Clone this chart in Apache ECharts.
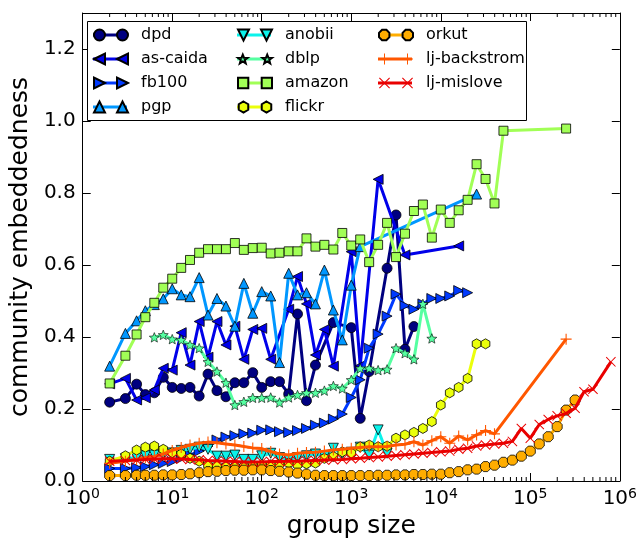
<!DOCTYPE html>
<html>
<head>
<meta charset="utf-8">
<script src="https://cdn.jsdelivr.net/npm/echarts@6/dist/echarts.min.js"></script>
<style>html,body{margin:0;padding:0;background:#fff}#c{width:640px;height:544px}</style>
</head>
<body>
<div id="c"></div>
<script>
// group sizes (shared x grid)
const sizes = [2,3,4,5.01,6.31,7.94,10,12.6,15.8,20,25.1,31.6,39.8,50.1,63.1,79.4,100,126,158,200,251,316,398,501,631,794,1000,1259,1585,1995,2512,3162,3981,5012,6310,7943,10000,12589,15849,19953,25119,31623,39811,50119,63096,79433,100000,125893,158489,199526,251189,316228,398107,501187,630957,794328];
const _ = null;
// community embeddedness per group size (null = no point)
const dpd = [0.219,0.229,0.269,0.24,0.245,0.288,0.26,0.257,0.26,0.236,0.297,0.251,0.234,0.273,0.273,0.301,0.26,0.276,0.276,0.242,0.464,0.223,0.322,_,0.44,_,0.426,0.174,0.304,_,0.591,0.739,0.366,0.429];
const asCaida = [0.27,0.285,0.225,0.231,0.253,0.313,0.308,0.412,0.322,0.443,0.344,0.443,0.378,0.43,0.338,0.421,0.424,0.338,_,0.477,0.568,0.492,0.35,0.421,0.319,_,0.637,0.32,_,0.838,_,_,0.628,_,_,_,_,_,0.653];
const fb100 = [0.035,0.035,0.037,0.04,0.045,0.049,0.054,0.063,0.072,0.083,0.097,0.114,0.122,0.126,0.131,0.133,0.141,0.142,0.137,0.135,0.14,0.146,0.155,0.161,0.172,0.186,0.232,0.281,0.369,0.408,0.458,0.519,0.487,0.477,0.492,0.507,0.507,0.514,0.529,0.523];
const pgp = [0.319,0.41,0.445,0.473,0.49,0.506,0.534,0.517,0.512,0.565,0.461,0.507,0.486,0.43,0.549,0.466,0.526,0.514,0.329,0.577,0.517,0.523,0.492,0.586,0.475,0.392,0.544,0.651,_,_,_,_,_,_,_,_,_,_,_,_,0.797];
const anobii = [0.06,0.062,0.065,0.07,0.072,0.075,0.078,0.085,0.088,0.094,0.088,0.069,0.069,0.072,0.06,0.06,0.07,0.077,0.065,0.06,0.065,0.07,0.075,0.068,0.091,0.075,0.08,0.094,0.072,0.142,0.077];
const dblp = [_,_,_,_,0.399,0.406,0.394,0.392,0.378,0.369,0.331,0.304,0.273,0.211,0.22,0.231,0.231,0.232,0.218,0.232,0.239,0.245,0.245,0.251,0.264,0.257,0.281,0.313,0.313,0.308,0.31,0.369,0.355,0.338,0.492,0.396];
const amazon = [0.271,0.348,0.407,0.455,0.495,0.537,0.562,0.592,0.614,0.634,0.644,0.644,0.644,0.661,0.642,0.647,0.648,0.632,0.634,0.638,0.638,0.674,0.651,0.656,0.643,0.689,0.654,0.671,0.608,0.656,0.717,0.622,0.687,0.75,0.768,0.676,0.754,0.717,0.752,0.781,0.88,0.839,0.771,0.973,_,_,_,_,_,_,0.979];
const flickr = [0.055,0.07,0.086,0.094,0.097,0.088,0.079,0.075,0.063,0.055,0.044,0.042,0.04,0.04,0.04,0.042,0.045,0.045,0.047,0.05,0.045,0.048,0.05,0.063,0.068,0.081,0.077,0.095,0.1,0.095,0.097,0.119,0.128,0.135,0.146,0.165,0.211,0.245,0.26,0.285,0.381,0.381];
const orkut = [0.015,0.015,0.016,0.016,0.016,0.017,0.017,0.018,0.02,0.023,0.026,0.027,0.029,0.03,0.03,0.031,0.031,0.029,0.027,0.025,0.022,0.019,0.016,0.015,0.015,0.015,0.015,0.015,0.015,0.016,0.016,0.017,0.017,0.018,0.018,0.019,0.019,0.023,0.026,0.031,0.033,0.04,0.044,0.052,0.058,0.069,0.083,0.103,0.123,0.151,0.197,0.225];
const ljBackstrom = [0.049,0.055,0.06,0.065,0.068,0.075,0.085,0.093,0.1,0.105,0.108,0.106,0.103,0.1,0.096,0.092,0.09,0.082,0.075,0.072,0.077,0.079,0.08,0.083,0.086,0.088,0.091,0.093,0.095,0.095,0.096,0.1,0.102,0.109,0.1,0.112,0.123,0.105,0.125,0.114,0.128,0.14,0.131,_,_,_,_,_,_,_,0.394];
const ljMislove = [0.055,0.057,0.058,0.06,0.061,0.062,0.062,0.061,0.06,0.059,0.057,0.056,0.055,0.054,0.053,0.053,0.053,0.054,0.054,0.055,0.055,0.056,0.057,0.058,0.059,0.06,0.062,0.063,0.065,0.067,0.069,0.071,0.073,0.075,0.077,0.079,0.081,0.083,0.088,0.091,0.097,0.1,0.103,0.105,0.11,0.146,0.119,0.157,0.171,0.181,0.188,0.202,0.248,0.255,_,0.331];

const names = ['dpd','as-caida','fb100','pgp','anobii','dblp','amazon','flickr','orkut','lj-backstrom','lj-mislove'];
const values = [dpd, asCaida, fb100, pgp, anobii, dblp, amazon, flickr, orkut, ljBackstrom, ljMislove];
const colors = ['#000080','#0000e9','#003aff','#0097ff','#0bf3eb','#56ffa1','#a1ff56','#ebff0b','#ffad00','#ff5700','#e90000'];

const STAR = 'path://M50,0 L62.9,32.3 L97.55,34.55 L70.9,56.8 L79.39,90.45 L50,72.2 L20.61,90.45 L29.1,56.8 L2.45,34.55 L37.1,32.3 Z';
const HEX = 'path://M50,0 L93.3,25 L93.3,75 L50,100 L6.7,75 L6.7,25 Z';
const OCT = 'path://M69.1,3.8 L96.2,30.9 L96.2,69.1 L69.1,96.2 L30.9,96.2 L3.8,69.1 L3.8,30.9 L30.9,3.8 Z';
const PLUS = 'path://M0,45 L100,45 L100,55 L0,55 Z M45,0 L55,0 L55,100 L45,100 Z';
const CROSS = 'path://M0,7 L7,0 L50,43 L93,0 L100,7 L57,50 L100,93 L93,100 L50,57 L7,100 L0,93 L43,50 Z';
const symbols = [
  {s:'circle', size:10, rot:0, keep:false, edge:0.8},
  {s:'triangle', size:10, rot:90, keep:false, edge:0.8},
  {s:'triangle', size:10, rot:-90, keep:false, edge:0.8},
  {s:'triangle', size:10, rot:0, keep:false, edge:0.8},
  {s:'triangle', size:10, rot:180, keep:false, edge:0.8},
  {s:STAR, size:10, rot:0, keep:true, edge:0.6},
  {s:'rect', size:9, rot:0, keep:false, edge:0.8},
  {s:HEX, size:10, rot:0, keep:true, edge:0.8},
  {s:OCT, size:10, rot:0, keep:true, edge:0.8},
  {s:PLUS, size:11, rot:0, keep:true, edge:0},
  {s:CROSS, size:10, rot:0, keep:true, edge:0}
];

// legend icons: two markers (matplotlib style, numpoints=2) in a 340x110 box
const mk = {
  circle: c => `M${c-55},55 A55,55 0 1,1 ${c+55},55 A55,55 0 1,1 ${c-55},55 Z`,
  left: c => `M${c-55},55 L${c+55},0 L${c+55},110 Z`,
  right: c => `M${c+55},55 L${c-55},0 L${c-55},110 Z`,
  up: c => `M${c},0 L${c+55},110 L${c-55},110 Z`,
  down: c => `M${c},110 L${c+55},0 L${c-55},0 Z`,
  star: c => `M${c},10 L${c+11.5},39 L${c+45},41 L${c+19},60 L${c+28},93 L${c},74 L${c-28},93 L${c-19},60 L${c-45},41 L${c-11.5},39 Z`,
  square: c => `M${c-50},5 L${c+50},5 L${c+50},105 L${c-50},105 Z`,
  hex: c => `M${c},0 L${c+47.6},27.5 L${c+47.6},82.5 L${c},110 L${c-47.6},82.5 L${c-47.6},27.5 Z`,
  oct: c => `M${c+21},4.2 L${c+50.8},34 L${c+50.8},76 L${c+21},105.8 L${c-21},105.8 L${c-50.8},76 L${c-50.8},34 L${c-21},4.2 Z`,
  plus: c => `M${c-55},50 L${c+55},50 L${c+55},60 L${c-55},60 Z M${c-5},0 L${c+5},0 L${c+5},110 L${c-5},110 Z`,
  cross: c => `M${c-55},7.7 L${c-47.3},0 L${c},47.3 L${c+47.3},0 L${c+55},7.7 L${c+7.7},55 L${c+55},102.3 L${c+47.3},110 L${c},62.7 L${c-47.3},110 L${c-55},102.3 L${c-7.7},55 Z`
};
const iconKinds = ['circle','left','right','up','down','star','square','hex','oct','plus','cross'];
// star icon: add invisible-height padding by using the full-height box markers for scale
const legendIcons = iconKinds.map(k => 'path://' + mk[k](55) + ' ' + mk[k](285));
const BAR = 'path://M0,40 L340,40 L340,70 L0,70 Z';

const FONT = 'DejaVu Sans';
const minorTicks = [];
for (let e = 0; e < 6; e++) for (let m = 2; m <= 9; m++) minorTicks.push(m * Math.pow(10, e));

const series = names.map((n, i) => ({
  name: n, type: 'line',
  data: sizes.map((s, j) => [s, values[i][j]]).filter(p => p[1] !== null && p[1] !== undefined),
  symbol: symbols[i].s, symbolSize: symbols[i].size, symbolRotate: symbols[i].rot,
  symbolKeepAspect: symbols[i].keep,
  lineStyle: {color: colors[i], width: 3},
  itemStyle: {color: colors[i], borderColor: symbols[i].edge ? '#000' : colors[i], borderWidth: symbols[i].edge, opacity: 1},
  emphasis: {disabled: true},
  animation: false,
  z: 2 + i * 0.01
}));
series.push({
  type: 'custom', silent: true, z: 20, clip: false,
  data: minorTicks.map(v => [v, 0]),
  encode: {x: 0, y: 1},
  renderItem: (params, api) => {
    const v = api.value(0);
    const b = api.coord([v, 0]);
    const t = api.coord([v, 1.3]);
    return {type: 'group', children: [
      {type: 'line', shape: {x1: b[0], y1: b[1], x2: b[0], y2: b[1] - 4}, style: {stroke: '#000', lineWidth: 1}},
      {type: 'line', shape: {x1: t[0], y1: t[1], x2: t[0], y2: t[1] + 4}, style: {stroke: '#000', lineWidth: 1}}
    ]};
  }
});

const cols = [[0, 4, 88], [4, 8, 232], [8, 11, 373]];
const legends = [];
cols.forEach(([a, b, left]) => {
  const base = {
    orient: 'vertical', itemWidth: 34, itemHeight: 11, itemGap: 8, top: 22, left: left,
    selectedMode: false, padding: 5
  };
  // coloured line segment + label
  legends.push(Object.assign({}, base, {
    z: 200, icon: BAR, itemStyle: {borderWidth: 0},
    data: names.slice(a, b),
    textStyle: {fontFamily: FONT, fontSize: 16, color: '#000', padding: [0, 0, 0, 9]}
  }));
  // two markers on top
  legends.push(Object.assign({}, base, {
    z: 201,
    data: names.slice(a, b).map((n, k) => ({name: n, icon: legendIcons[a + k]})),
    symbolKeepAspect: true,
    textStyle: {fontFamily: FONT, fontSize: 16, color: 'rgba(0,0,0,0)', padding: [0, 0, 0, 9]}
  }));
});

const chart = echarts.init(document.getElementById('c'), null, {renderer: 'canvas'});
chart.setOption({
  animation: false,
  backgroundColor: '#fff',
  grid: {left: 78, right: 16, top: 13, bottom: 63, containLabel: false},
  xAxis: [{
    type: 'log', logBase: 10, min: 1, max: 1e6,
    axisLine: {show: true, onZero: false, lineStyle: {color: '#000', width: 1}},
    axisTick: {show: true, inside: true, length: 8, lineStyle: {color: '#000'}},
    minorTick: {show: false},
    splitLine: {show: false},
    axisLabel: {
      margin: 6, color: '#000',
      formatter: v => '{b|10}{e|' + Math.round(Math.log10(v)) + '}',
      rich: {
        b: {fontFamily: FONT, fontSize: 20, color: '#000', lineHeight: 24},
        e: {fontFamily: FONT, fontSize: 14, color: '#000', verticalAlign: 'top', lineHeight: 14}
      }
    },
    name: 'group size', nameLocation: 'middle', nameGap: 30,
    nameTextStyle: {fontFamily: FONT, fontSize: 25, color: '#000'}
  }, {
    type: 'log', logBase: 10, min: 1, max: 1e6, position: 'top',
    axisLine: {show: true, onZero: false, lineStyle: {color: '#000', width: 1}},
    axisTick: {show: true, inside: true, length: 8, lineStyle: {color: '#000'}},
    axisLabel: {show: false}, splitLine: {show: false}
  }],
  yAxis: [{
    type: 'value', min: 0, max: 1.3, interval: 0.2,
    axisLine: {show: true, onZero: false, lineStyle: {color: '#000', width: 1}},
    axisTick: {show: true, inside: true, length: 8, lineStyle: {color: '#000'}},
    splitLine: {show: false},
    axisLabel: {
      margin: 7, color: '#000', fontFamily: FONT, fontSize: 20, showMaxLabel: false,
      formatter: v => (Math.abs(v * 5 - Math.round(v * 5)) < 1e-6 ? v.toFixed(1) : '')
    },
    name: 'community embeddedness', nameLocation: 'middle', nameGap: 27,
    nameTextStyle: {fontFamily: FONT, fontSize: 25, color: '#000'}
  }, {
    type: 'value', min: 0, max: 1.3, interval: 0.2, position: 'right',
    axisLine: {show: true, onZero: false, lineStyle: {color: '#000', width: 1}},
    axisTick: {show: true, inside: true, length: 8, lineStyle: {color: '#000'}},
    axisLabel: {show: false}, splitLine: {show: false}
  }],
  legend: legends,
  graphic: [{
    type: 'rect', z: 150,
    shape: {x: 87.5, y: 21.5, width: 439, height: 99},
    style: {fill: '#fff', stroke: '#000', lineWidth: 1}
  }],
  series: series
});
</script>
</body>
</html>
